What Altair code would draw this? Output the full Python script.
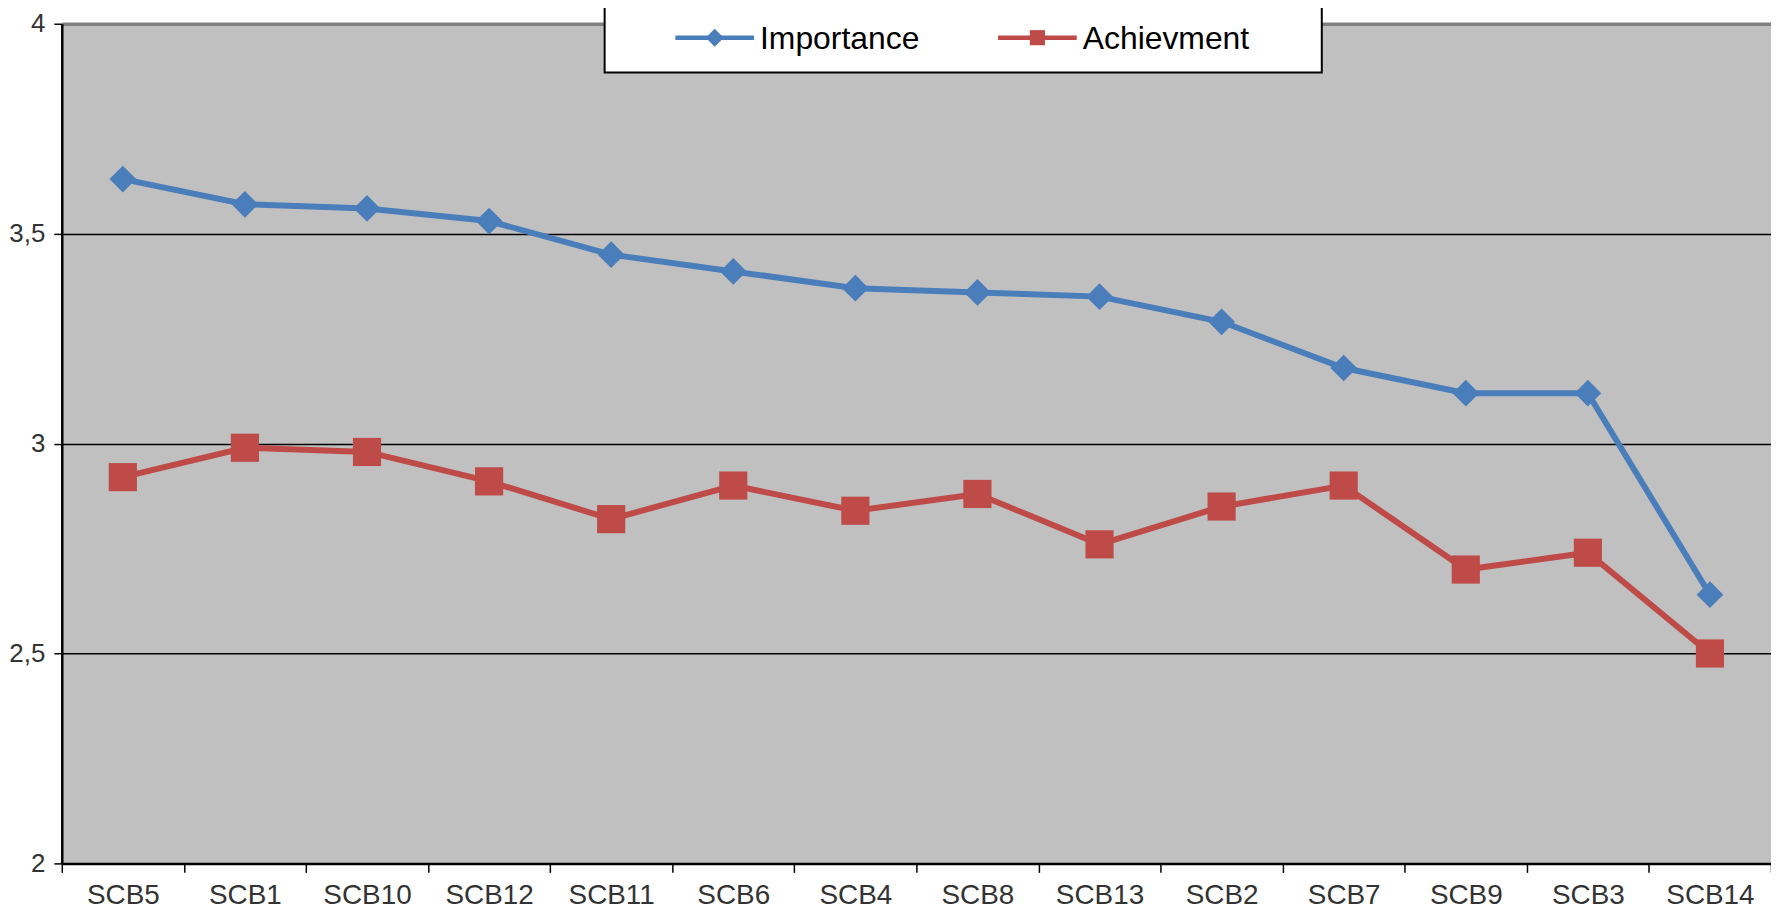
import altair as alt
import pandas as pd

categories = ["SCB5", "SCB1", "SCB10", "SCB12", "SCB11", "SCB6", "SCB4",
              "SCB8", "SCB13", "SCB2", "SCB7", "SCB9", "SCB3", "SCB14"]
importance = [3.63, 3.57, 3.56, 3.53, 3.45, 3.41, 3.37, 3.36, 3.35, 3.29, 3.18, 3.12, 3.12, 2.64]
achievment = [2.92, 2.99, 2.98, 2.91, 2.82, 2.90, 2.84, 2.88, 2.76, 2.85, 2.90, 2.70, 2.74, 2.50]
series_names = ["Importance", "Achievment"]
series_colors = ["#4a7ebb", "#be4b48"]
series_shapes = ["diamond", "square"]
y_ticks = [2, 2.5, 3, 3.5, 4]

rows = []
for c, v in zip(categories, importance):
    rows.append({"cat": c, "series": "Importance", "value": v})
for c, v in zip(categories, achievment):
    rows.append({"cat": c, "series": "Achievment", "value": v})
df = pd.DataFrame(rows)

FONT = "Liberation Sans, Arial, sans-serif"
W, H = 1716, 843

x_enc = alt.X("cat:N", sort=categories, bandPosition=0.5,
              scale=alt.Scale(type="band", paddingInner=0, paddingOuter=0),
              axis=alt.Axis(title=None, labelAngle=0, tickBand="extent", grid=False,
                            domainColor="black", domainWidth=2.5, tickColor="black",
                            tickWidth=1.5, tickSize=9, labelFontSize=28, labelFont=FONT,
                            labelColor="#333333", labelPadding=9))
y_enc = alt.Y("value:Q", scale=alt.Scale(domain=[2, 4], nice=False, zero=False),
              axis=alt.Axis(title=None, values=y_ticks, grid=True,
                            gridColor={"condition": {"test": "datum.value === 4", "value": "#808080"}, "value": "black"},
                            gridWidth={"condition": {"test": "datum.value === 4", "value": 3.5}, "value": 1.5},
                            domainColor="black", domainWidth=2.5, tickColor="black",
                            tickWidth=1.5, tickSize=8, labelFontSize=26, labelFont=FONT,
                            labelColor="#333333", labelPadding=9,
                            labelExpr="replace(toString(datum.value), '.', ',')"))

base = alt.Chart(df)
lines = base.mark_line(strokeWidth=6).encode(
    x=x_enc, y=y_enc,
    color=alt.Color("series:N", scale=alt.Scale(domain=series_names, range=series_colors), legend=None),
)
points = base.mark_point(filled=True, opacity=1, strokeWidth=0).encode(
    x=x_enc, y=y_enc,
    fill=alt.Fill("series:N", scale=alt.Scale(domain=series_names, range=series_colors), legend=None),
    shape=alt.Shape("series:N", scale=alt.Scale(domain=series_names, range=series_shapes), legend=None),
    size=alt.Size("series:N", scale=alt.Scale(domain=series_names, range=[720, 800]), legend=None),
)

# legend (drawn as a framed box above the plot)
one = pd.DataFrame({"k": [0]})
box = alt.Chart(one).mark_rect(fill="white", stroke="black", strokeWidth=2).encode(
    x=alt.value(545), x2=alt.value(1265), y=alt.value(-40), y2=alt.value(49))
legend_layers = [box]
leg_x = [616, 940]
leg_sizes = [330, 230]
for name, col, shp, lx, sz in zip(series_names, series_colors, series_shapes, leg_x, leg_sizes):
    d = pd.DataFrame({"series": [name]})
    legend_layers.append(alt.Chart(d).mark_rule(color=col, strokeWidth=4.5).encode(
        x=alt.value(lx), x2=alt.value(lx + 79), y=alt.value(14)))
    legend_layers.append(alt.Chart(d).mark_point(filled=True, fill=col, opacity=1, strokeWidth=0,
                                                 shape=shp, size=sz).encode(
        x=alt.value(lx + 39.5), y=alt.value(14)))
    legend_layers.append(alt.Chart(d).mark_text(align="left", baseline="middle", fontSize=32,
                                                font=FONT, color="black").encode(
        x=alt.value(lx + 85), y=alt.value(15), text="series:N"))

chart = alt.layer(lines, points, *legend_layers).properties(
    width=W, height=H,
    background="white",
    autosize=alt.AutoSizeParams(type="none"),
    padding={"left": 54, "top": 14, "right": 0, "bottom": 48},
).configure_view(
    fill="#c0c0c0", stroke=None
)

chart.save("out.html", embed_options={"renderer": "svg", "actions": False})
